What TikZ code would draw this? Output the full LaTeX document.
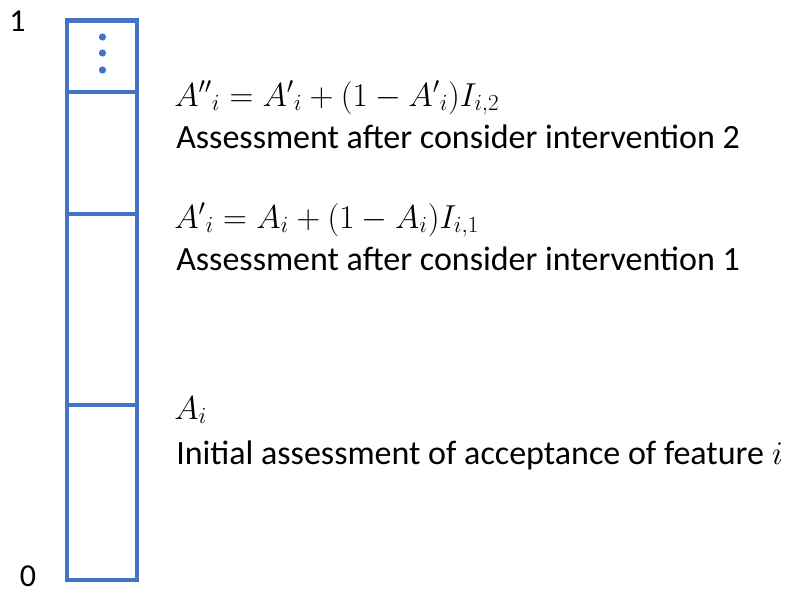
\documentclass[tikz,border=0pt]{standalone}
\usepackage{amsmath}
\usepackage{fontspec}
\setmainfont{Carlito}
\usepackage{tikz}
\usepackage{xcolor}
\definecolor{barblue}{HTML}{4472C4}

\begin{document}
\begin{tikzpicture}[x=0.75pt,y=-0.75pt,
  bar/.style={draw=barblue,line width=3.4pt},
  lbl/.style={anchor=base west,inner sep=0pt,font=\fontsize{25.5}{30}\selectfont},
  formula/.style={lbl,font=\fontsize{27}{32}\selectfont},
  tick/.style={anchor=base,inner sep=0pt,font=\fontsize{24}{28}\selectfont}]
  \useasboundingbox (0,0) rectangle (788,592);
  % the bar from 0 to 1
  \draw[bar] (67,20.5) rectangle (137,580);
  \foreach \y in {92,214,405} \draw[bar] (67,\y) -- (137,\y);
  \foreach \y in {37,53,70} \fill[barblue] (102.5,\y) circle (3.6);
  \node[tick] (one) at (17.5,32) {1};
  \node[tick] (zero) at (28,586) {0};
  % second intervention
  \node[formula] (f2) at (174,106) {${A''}_i = {A'}_i + (1 - {A'}_i)I_{i,2}$};
  \node[lbl] (t2) at (176,148) {Assessment after consider intervention 2};
  % first intervention
  \node[formula] (f1) at (174,228) {${A'}_i = A_i + (1 - A_i)I_{i,1}$};
  \node[lbl] (t1) at (176,270) {Assessment after consider intervention 1};
  % initial
  \node[formula] (f0) at (174,419) {$A_i$};
  \node[lbl] (t0) at (176,464) {Initial assessment of acceptance of feature $i$};
\end{tikzpicture}
\end{document}
